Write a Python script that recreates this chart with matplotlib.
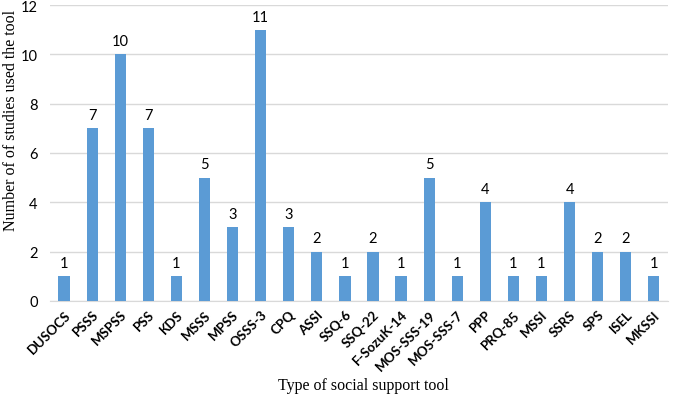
import matplotlib
matplotlib.use("Agg")

import matplotlib.pyplot as plt
import matplotlib.transforms as mtransforms
import numpy as np

tools = [
    "DUSOCS", "PSSS", "MSPSS", "PSS", "KDS", "MSSS", "MPSS", "OSSS-3", "CPQ",
    "ASSI", "SSQ-6", "SSQ-22", "F-SozuK-14", "MOS-SSS-19", "MOS-SSS-7", "PPP",
    "PRQ-85", "MSSI", "SSRS", "SPS", "ISEL", "MKSSI",
]
counts = [1, 7, 10, 7, 1, 5, 3, 11, 3, 2, 1, 2, 1, 5, 1, 4, 1, 1, 4, 2, 2, 1]
yticks = [0, 2, 4, 6, 8, 10, 12]

sans = ["Lato", "DejaVu Sans"]
serif = ["Liberation Serif", "DejaVu Serif"]

fig = plt.figure(figsize=(6.85, 4.02), dpi=100)
ax = fig.add_axes([0.073, 0.249, 0.902, 0.736])

x = np.arange(len(tools))
bars = ax.bar(x, counts, width=0.4, color="#5B9BD5", zorder=3)

for rect, v in zip(bars, counts):
    ax.text(rect.get_x() + rect.get_width() / 2, v + 0.25, str(v),
            ha="center", va="bottom", fontsize=10.5, family=sans, color="#000000")

ax.set_xlim(-0.5, len(tools) - 0.5)
ax.set_ylim(0, 12)
ax.set_yticks(yticks)
ax.set_yticklabels([str(t) for t in yticks], family=sans, fontsize=10.5)
ax.yaxis.grid(True, color="#d9d9d9", linewidth=1, zorder=0)

ax.set_xticks(x)
ax.set_xticklabels(tools, rotation=45, ha="right", rotation_mode="anchor",
                   family=sans, fontweight="bold", fontsize=9.6)
# nudge rotated labels right and down, like the original
shift = mtransforms.ScaledTranslation(6 / 72, -6.5 / 72, fig.dpi_scale_trans)
for lbl in ax.get_xticklabels():
    lbl.set_transform(lbl.get_transform() + shift)

for side in ["top", "right", "left"]:
    ax.spines[side].set_visible(False)
ax.spines["bottom"].set_color("#d9d9d9")
ax.tick_params(axis="both", length=0)
ax.tick_params(axis="y", pad=9)
ax.tick_params(axis="x", pad=5)

fig.text(0.53, 0.04, "Type of social support tool", ha="center", va="center",
         family=serif, fontsize=11.5)
fig.text(0.016, 0.70, "Number of of studies used the tool", ha="center",
         va="center", rotation=90, family=serif, fontsize=11.5)

fig.savefig("out.png", dpi=100)
plt.close(fig)
